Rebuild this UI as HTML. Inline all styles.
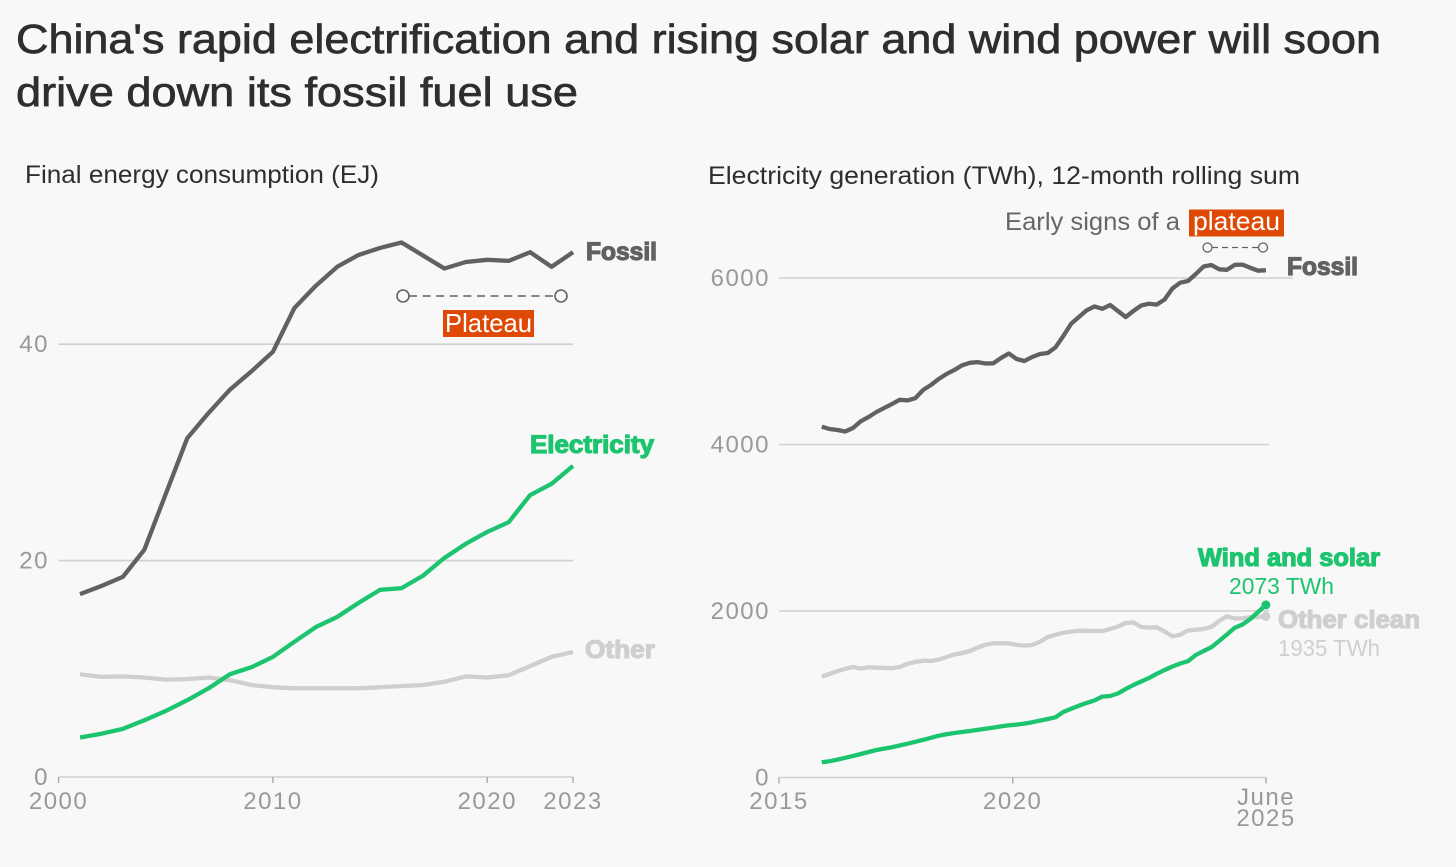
<!DOCTYPE html>
<html lang="en">
<head>
<meta charset="utf-8">
<title>China's electrification and fossil fuel use</title>
<style>
  html, body { margin: 0; padding: 0; background: #f8f8f8; }
  svg { display: block; font-family: "Liberation Sans", sans-serif; }
  .title { font-size: 41px; fill: #2e2e2e; stroke: #2e2e2e; stroke-width: .7px; }
  .sub { font-size: 25px; fill: #2e2e2e; }
  .tick { font-size: 24px; fill: #999; letter-spacing: 1.5px; }
  .heavy { font-size: 25px; font-weight: bold; stroke-width: 1.2px; }
  .val { font-size: 23px; }
</style>
</head>
<body>
<svg id="root" width="1456" height="867" viewBox="0 0 1456 867" xmlns="http://www.w3.org/2000/svg">
  <rect width="1456" height="867" fill="#f8f8f8"/>
  <text class="title" x="16" y="53" textLength="1365" lengthAdjust="spacingAndGlyphs">China's rapid electrification and rising solar and wind power will soon</text>
  <text class="title" x="16" y="106" textLength="562" lengthAdjust="spacingAndGlyphs">drive down its fossil fuel use</text>

  <text class="sub" x="25" y="183" textLength="354" lengthAdjust="spacingAndGlyphs">Final energy consumption (EJ)</text>
  <text class="sub" x="708" y="184" textLength="592" lengthAdjust="spacingAndGlyphs">Electricity generation (TWh), 12-month rolling sum</text>

  <g id="left-axes"></g>
  <g id="right-axes"></g>
  <g id="left-lines"></g>
  <g id="right-lines"></g>

  <g>
    <line x1="409" y1="296" x2="555" y2="296" stroke="#616161" stroke-width="1.6" stroke-dasharray="8 5.6"/>
    <circle cx="403" cy="296" r="6" fill="#f8f8f8" stroke="#616161" stroke-width="1.6"/>
    <circle cx="561" cy="296" r="6" fill="#f8f8f8" stroke="#616161" stroke-width="1.6"/>
    <rect x="443" y="310" width="91" height="27" fill="#de4a05"/>
    <text x="445" y="332" font-size="26" fill="#fff" textLength="87" lengthAdjust="spacingAndGlyphs">Plateau</text>
  </g>

  <g>
    <text x="1005" y="230" font-size="25" fill="#666" textLength="175" lengthAdjust="spacingAndGlyphs">Early signs of a</text>
    <rect x="1189" y="209.5" width="95" height="27" fill="#de4a05"/>
    <text x="1193" y="230" font-size="26" fill="#fff" textLength="87" lengthAdjust="spacingAndGlyphs">plateau</text>
    <line x1="1212" y1="247.5" x2="1258" y2="247.5" stroke="#616161" stroke-width="1.3" stroke-dasharray="6 4"/>
    <circle cx="1207.5" cy="247.5" r="4.5" fill="#f8f8f8" stroke="#616161" stroke-width="1.3"/>
    <circle cx="1263" cy="247.5" r="4.5" fill="#f8f8f8" stroke="#616161" stroke-width="1.3"/>
  </g>

  <text class="heavy" x="586" y="260" fill="#616161" stroke="#616161" textLength="71" lengthAdjust="spacingAndGlyphs">Fossil</text>
  <text class="heavy" x="530" y="453" fill="#1dc46f" stroke="#1dc46f" textLength="124" lengthAdjust="spacingAndGlyphs">Electricity</text>
  <text class="heavy" x="585" y="658" fill="#cfcfcf" stroke="#cfcfcf" textLength="70" lengthAdjust="spacingAndGlyphs">Other</text>

  <text class="heavy" x="1287" y="275" fill="#616161" stroke="#616161" textLength="71" lengthAdjust="spacingAndGlyphs">Fossil</text>
  <text class="heavy" x="1198" y="566" fill="#1dc46f" stroke="#1dc46f" textLength="182" lengthAdjust="spacingAndGlyphs">Wind and solar</text>
  <text class="val" x="1229" y="594" fill="#1dc46f" textLength="105" lengthAdjust="spacingAndGlyphs">2073 TWh</text>
  <text class="heavy" x="1278" y="628" fill="#cfcfcf" stroke="#cfcfcf" textLength="142" lengthAdjust="spacingAndGlyphs">Other clean</text>
  <text class="val" x="1278" y="656" fill="#cfcfcf" textLength="102" lengthAdjust="spacingAndGlyphs">1935 TWh</text>

<script>
// ---- Left chart data (EJ per year, 2000 to 2023) ----
const leftStartYear = 2000;
const leftFossil = [16.9,17.65,18.5,21.0,26.15,31.3,33.65,35.8,37.5,39.3,43.35,45.4,47.15,48.25,48.9,49.4,48.2,47.0,47.6,47.8,47.7,48.5,47.15,48.5];
const leftElectricity = [3.65,4.0,4.45,5.25,6.1,7.1,8.2,9.5,10.15,11.1,12.5,13.85,14.8,16.1,17.3,17.45,18.6,20.25,21.55,22.65,23.55,26.05,27.1,28.75];
const leftOther = [9.5,9.25,9.3,9.2,9.0,9.05,9.2,8.95,8.5,8.3,8.2,8.2,8.2,8.2,8.3,8.4,8.5,8.8,9.3,9.2,9.4,10.25,11.1,11.55];
const leftYTicks = [0,20,40];
const leftYGrid = [20,40];
// Tick marks in the source sit one year before the printed label (except the last).
const leftXTicks = [1999,2009,2019,2023];
const leftXLabels = ["2000","2010","2020","2023"];

// ---- Right chart data (TWh, 12-month rolling sum, every two months Dec 2015 to Jun 2025) ----
const rightFossil = [4214,4186,4174,4156,4198,4279,4330,4390,4438,4487,4537,4530,4556,4655,4715,4787,4847,4895,4951,4981,4990,4973,4975,5039,5093,5027,5003,5051,5087,5099,5168,5303,5450,5532,5612,5659,5630,5676,5604,5532,5604,5670,5691,5681,5742,5874,5944,5964,6048,6138,6156,6105,6099,6157,6161,6123,6088,6094];
const rightWindSolar = [183,196,215,237,258,282,306,330,347,364,384,406,429,452,477,502,519,535,547,559,572,585,599,614,627,635,647,664,683,703,723,787,825,862,896,926,972,979,1009,1063,1111,1153,1195,1246,1291,1333,1369,1397,1471,1520,1564,1640,1718,1798,1838,1904,1988,2073];
const rightOtherClean = [1211,1246,1277,1306,1329,1308,1324,1320,1317,1313,1327,1366,1387,1403,1399,1416,1447,1477,1495,1520,1560,1594,1612,1612,1611,1593,1584,1592,1631,1688,1714,1739,1753,1763,1762,1761,1760,1784,1814,1856,1862,1808,1801,1804,1754,1696,1714,1766,1774,1785,1808,1880,1938,1910,1912,1926,1928,1935];
const rightYTicks = [0,2000,4000,6000];
const rightXTicks = [2015,2020,2025.42];
const rightXLabels = [["2015"],["2020"],["June","2025"]];

// ---- Scales ----
const NS = 'http://www.w3.org/2000/svg';
function lx(year){ return 80 + (year - 2000) * 21.435; }
function ly(v){ return 777 - v * 10.82; }
function rx(year){ return 1012.7 + (year - 2020) * 46.74; }
function ry(v){ return 777.5 - v * 0.08325; }
function rDate(i){ return 2015 + 11/12 + i/6; }

function mk(tag, parent, attrs){
  const el = document.createElementNS(NS, tag);
  for (const k in attrs) el.setAttribute(k, attrs[k]);
  parent.appendChild(el);
  return el;
}

const leftAxes = document.getElementById('left-axes');
const rightAxes = document.getElementById('right-axes');
const leftLines = document.getElementById('left-lines');
const rightLines = document.getElementById('right-lines');
const AXIS = '#cfcfcf';

// Left axes
leftYTicks.forEach(function(v){
  const t = mk('text', leftAxes, {class:'tick', x:49, y:ly(v)+8, 'text-anchor':'end'});
  
  
  t.textContent = String(v);
});
leftYGrid.forEach(function(v){
  const g = mk('line', leftAxes, {x1:lx(1999), x2:lx(2023), y1:ly(v), y2:ly(v), stroke:AXIS, 'stroke-width':1.6});
  
  
});
const leftBase = mk('line', leftAxes, {x1:lx(1999), x2:lx(2023), y1:ly(0), y2:ly(0), stroke:AXIS, 'stroke-width':1.6});


leftXTicks.forEach(function(y, i){
  const tk = mk('line', leftAxes, {x1:lx(y), x2:lx(y), y1:ly(0), y2:ly(0)+6, stroke:'#aaa', 'stroke-width':1.4});
  
  
  const t = mk('text', leftAxes, {class:'tick', x:lx(y), y:809, 'text-anchor':'middle'});
  
  
  t.textContent = leftXLabels[i];
});

// Right axes
rightYTicks.forEach(function(v){
  const t = mk('text', rightAxes, {class:'tick', x:770, y:ry(v)+8, 'text-anchor':'end'});
  
  
  t.textContent = String(v);
  const endX = v === 6000 ? 1293 : (v === 0 ? rx(2025.42) : 1269);
  const g = mk('line', rightAxes, {x1:779, x2:endX, y1:ry(v), y2:ry(v), stroke:AXIS, 'stroke-width':1.6});
  
  
});
rightXTicks.forEach(function(y, i){
  const tk = mk('line', rightAxes, {x1:rx(y), x2:rx(y), y1:ry(0), y2:ry(0)+6, stroke:'#aaa', 'stroke-width':1.4});
  
  
  rightXLabels[i].forEach(function(s, j){
    const baseY = rightXLabels[i].length > 1 ? 805 + j * 21 : 809;
    const t = mk('text', rightAxes, {class:'tick', x:rx(y), y:baseY, 'text-anchor':'middle'});
    
    
    t.textContent = s;
  });
});

// Left series
function leftPath(arr){
  return arr.map(function(v, i){ return (i ? 'L' : 'M') + lx(leftStartYear + i).toFixed(1) + ' ' + ly(v).toFixed(1); }).join(' ');
}
function rightPath(arr){
  return arr.map(function(v, i){ return (i ? 'L' : 'M') + rx(rDate(i)).toFixed(1) + ' ' + ry(v).toFixed(1); }).join(' ');
}
function lineAttrs(d, color){
  return {d:d, fill:'none', stroke:color, 'stroke-width':4.3, 'stroke-linejoin':'round', 'stroke-linecap':'butt'};
}
const lo = mk('path', leftLines, lineAttrs(leftPath(leftOther), '#cfcfcf'));


const lf = mk('path', leftLines, lineAttrs(leftPath(leftFossil), '#616161'));


const le = mk('path', leftLines, lineAttrs(leftPath(leftElectricity), '#1dc46f'));



// Right series
const ro = mk('path', rightLines, lineAttrs(rightPath(rightOtherClean), '#cfcfcf'));


const roDot = mk('circle', rightLines, {cx:rx(rDate(rightOtherClean.length-1)), cy:ry(rightOtherClean[rightOtherClean.length-1]), r:4.5, fill:'#cfcfcf'});


const rf = mk('path', rightLines, lineAttrs(rightPath(rightFossil), '#616161'));


const rw = mk('path', rightLines, lineAttrs(rightPath(rightWindSolar), '#1dc46f'));


const rwDot = mk('circle', rightLines, {cx:rx(rDate(rightWindSolar.length-1)), cy:ry(rightWindSolar[rightWindSolar.length-1]), r:4.5, fill:'#1dc46f'});


</script>
</svg>
</body>
</html>
